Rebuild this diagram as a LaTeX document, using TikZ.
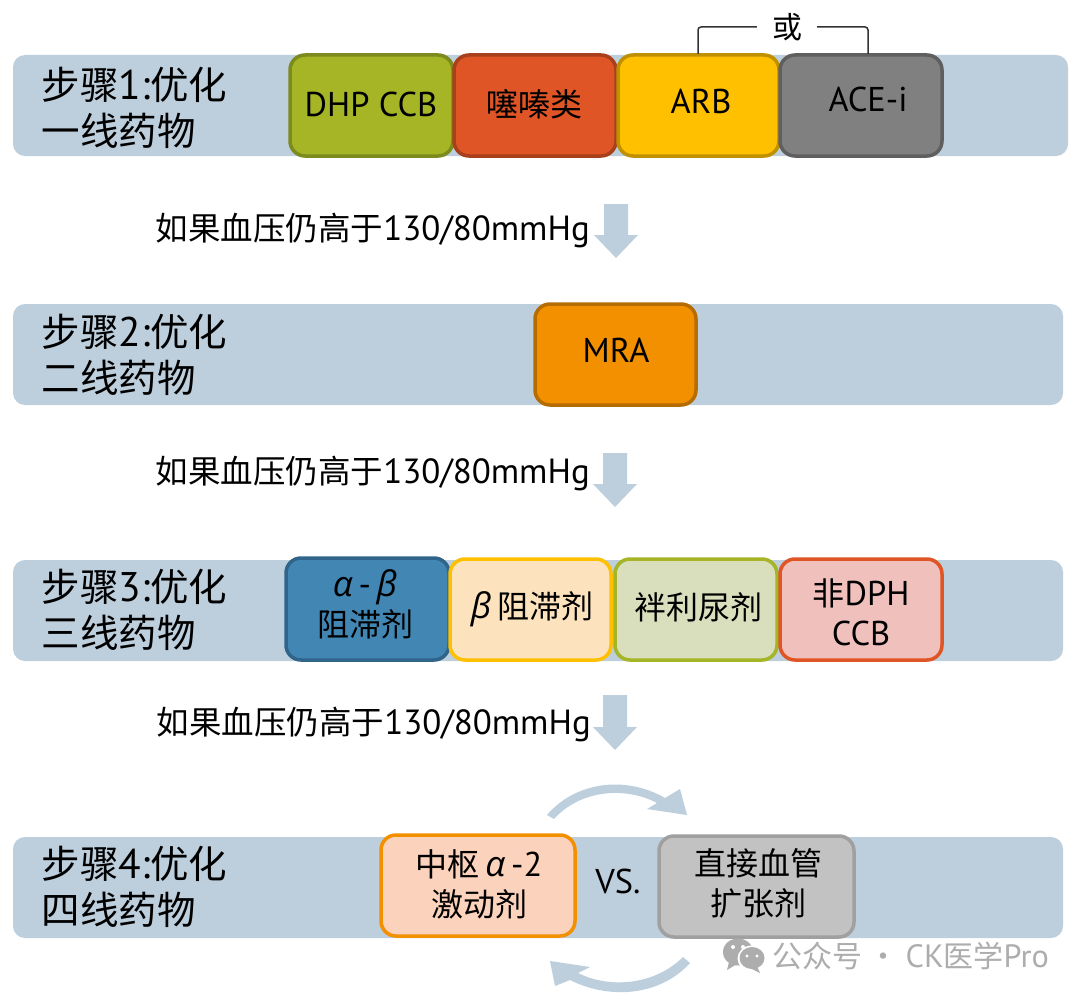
\documentclass[tikz,border=0pt]{standalone}
\usepackage{fontspec}
\setmainfont{PT Sans}[Scale=1.075]
\newfontfamily\cjk{Noto Sans CJK SC}
\newfontfamily\gk{Open Sans}[Scale=1.1]
\newcommand{\gr}[1]{{\gk\itshape #1}}
\definecolor{barc}{HTML}{BDCEDC}
\tikzset{
 x=1pt,y=-1pt,
 bar/.style={fill=barc,draw=none,rounded corners=12pt},
 drug/.style={rounded corners=15pt,line width=3.5pt},
 lab/.style={font=\fontsize{38.5}{46}\selectfont,anchor=west,align=left,text=black},
 txt/.style={font=\fontsize{32}{40}\selectfont,align=center,text=black},
 cond/.style={font=\fontsize{32.5}{38}\selectfont,anchor=west},
 wm/.style={text=black!32},
}
\begin{document}
\begin{tikzpicture}
\useasboundingbox (0,0) rectangle (1080,998);
\fill[white] (0,0) rectangle (1080,998);
% bars
\path[bar] (13,55) rectangle (1068,156);
\path[bar] (13,304) rectangle (1063,405);
\path[bar] (13,560) rectangle (1063,661);
\path[bar] (13,837) rectangle (1063,938);
% step labels
\node[lab] (s1) at (38,108) {{\cjk 步骤}1:{\cjk 优化}\\{\cjk 一线药物}};
\node[lab] (s2) at (38,355) {{\cjk 步骤}2:{\cjk 优化}\\{\cjk 二线药物}};
\node[lab] (s3) at (38,610) {{\cjk 步骤}3:{\cjk 优化}\\{\cjk 三线药物}};
\node[lab] (s4) at (38,887) {{\cjk 步骤}4:{\cjk 优化}\\{\cjk 四线药物}};
% step 1 drugs
\path[drug,fill={rgb,255:red,165;green,181;blue,38},draw={rgb,255:red,124;green,138;blue,30}] (290,55) rectangle (453,156);
\path[drug,fill={rgb,255:red,224;green,85;blue,37},draw={rgb,255:red,168;green,64;blue,28}] (454,55) rectangle (616,156);
\path[drug,fill={rgb,255:red,255;green,192;blue,0},draw={rgb,255:red,191;green,144;blue,0}] (618,55) rectangle (779,156);
\path[drug,fill={rgb,255:red,128;green,128;blue,128},draw={rgb,255:red,95;green,95;blue,95}] (780,55) rectangle (942,156);
\node[txt] (dhp) at (371,104) {DHP CCB};
\node[txt] (thi) at (534,104) {\cjk 噻嗪类};
\node[txt] (arb) at (701,101) {ARB};
\node[txt] (ace) at (868,99) {ACE-i};
\node[font=\fontsize{30}{34}\selectfont\cjk,inner sep=0pt,minimum width=60pt] (or) at (787,27) {或};
\coordinate (arbtop) at (698,54);
\coordinate (acetop) at (868,54);
\draw[line width=1.5pt,black!80,rounded corners=3pt] (arbtop) |- (or.west);
\draw[line width=1.5pt,black!80,rounded corners=3pt] (acetop) |- (or.east);
% step 2
\path[drug,fill={rgb,255:red,243;green,144;blue,0},draw={rgb,255:red,181;green,108;blue,0}] (535,304) rectangle (696,405);
\node[txt] (mra) at (616,350) {MRA};
% step 3
\path[drug,fill={rgb,255:red,66;green,134;blue,180},draw={rgb,255:red,49;green,100;blue,138}] (286,558) rectangle (449,660);
\path[drug,fill={rgb,255:red,252;green,226;blue,189},draw={rgb,255:red,255;green,192;blue,0}] (450,559) rectangle (611,660);
\path[drug,fill={rgb,255:red,217;green,223;blue,189},draw={rgb,255:red,165;green,181;blue,38}] (615,559) rectangle (777,660);
\path[drug,fill={rgb,255:red,240;green,192;blue,188},draw={rgb,255:red,224;green,85;blue,37}] (780,559) rectangle (942,660);
\node[txt] (ab) at (365,604) {\gr{α}\,-\,\gr{β}\\\cjk 阻滞剂};
\node[txt] (bb) at (532,609) {\gr{β}\,{\cjk 阻滞剂}};
\node[txt] (diu) at (698,607) {\cjk 袢利尿剂};
\node[txt] (ndp) at (861,612) {{\cjk 非}DPH\\CCB};
% step 4
\path[drug,fill={rgb,255:red,251;green,210;blue,188},draw={rgb,255:red,243;green,144;blue,0}] (381,835) rectangle (575,936);
\path[drug,fill={rgb,255:red,194;green,194;blue,194},draw={rgb,255:red,160;green,160;blue,160}] (659,836) rectangle (854,937);
\node[txt] (cen) at (479,884) {{\cjk 中枢}\,\gr{α}\,-2\\{\cjk 激动剂}};
\node[txt] (vs) at (618,881) {VS.};
\node[txt] (dir) at (758,883) {\cjk 直接血管\\\cjk 扩张剂};
% conditions
\node[cond] (c1) at (152,231) {{\cjk 如果血压仍高于}130/80mmHg};
\node[cond] (c2) at (152,474) {{\cjk 如果血压仍高于}130/80mmHg};
\node[cond] (c3) at (153,724) {{\cjk 如果血压仍高于}130/80mmHg};
% down arrows
\fill[barc] (604,204) -- (628,204) -- (628,235) -- (638,235) -- (616,258) -- (594,235) -- (604,235) -- cycle;
\fill[barc] (603,453) -- (627,453) -- (627,484) -- (637,484) -- (615,507) -- (593,484) -- (603,484) -- cycle;
\fill[barc] (603,695) -- (627,695) -- (627,727) -- (637,727) -- (615,750) -- (593,727) -- (603,727) -- cycle;
% curved arrows
\fill[barc] (547,815) .. controls (575,782) and (625,775) .. (665,798) -- (680,789) -- (687,815) -- (647,809) -- (657,803) .. controls (625,786) and (580,790) .. (554,819) -- cycle;
\fill[barc] (690,963) .. controls (660,996) and (610,1000) .. (570,980) -- (555,986) -- (550,961) -- (590,967) -- (578,973) .. controls (610,989) and (655,985) .. (683,957) -- cycle;
% watermark
\fill[black!32] (738,952) ellipse (15 and 13.5);
\fill[black!32] (729,962) -- (727,970) -- (737,964) -- cycle;
\fill[white] (733,947) circle (2);\fill[white] (743,947) circle (2);
\fill[white] (752,958.5) ellipse (14.5 and 13);
\fill[black!32] (752,958) ellipse (12.5 and 11);
\fill[black!32] (757,966) -- (760,973) -- (750,968) -- cycle;
\fill[white] (747,956) circle (1.7);\fill[white] (757,956) circle (1.7);
\node[wm,font=\fontsize{30}{34}\selectfont,anchor=west,inner sep=0pt] (w) at (772,956) {{\cjk 公众号 · }CK{\cjk 医学}Pro};
\end{tikzpicture}
\end{document}
